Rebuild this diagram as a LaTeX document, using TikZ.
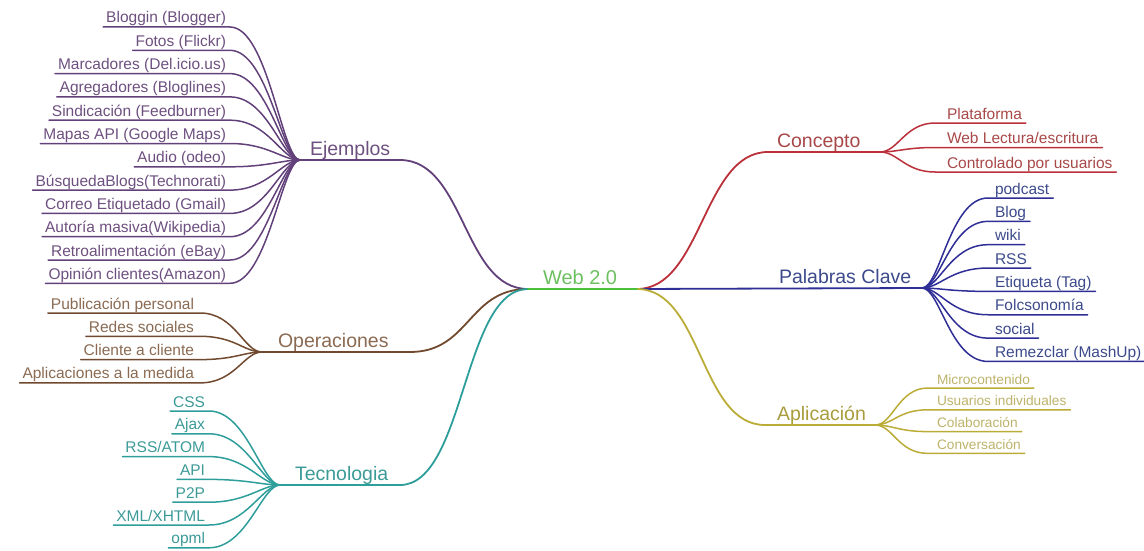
\documentclass[tikz,border=0pt]{standalone}
\usepackage{fontspec}
\setmainfont{Liberation Sans}
\definecolor{cEj}{HTML}{62407A}
\definecolor{tEj}{HTML}{6E5080}
\definecolor{cOp}{HTML}{70492E}
\definecolor{tOp}{HTML}{8A6A52}
\definecolor{cTe}{HTML}{2E9E9B}
\definecolor{tTe}{HTML}{3C9A97}
\definecolor{cCo}{HTML}{BB303A}
\definecolor{tCo}{HTML}{A84848}
\definecolor{cPa}{HTML}{2E2E96}
\definecolor{tPa}{HTML}{3C4A8C}
\definecolor{cAp}{HTML}{BBAC38}
\definecolor{tAp}{HTML}{A89C3C}
\definecolor{tApl}{HTML}{BDB26A}
\definecolor{cWeb}{HTML}{4CC03A}
\definecolor{tWeb}{HTML}{6CC060}
\begin{document}
\begin{tikzpicture}[x=1pt,y=-1pt,line cap=round,
  leaf/.style={inner sep=0pt,outer sep=0pt,font=\fontsize{15.5}{18}\selectfont},
  smallleaf/.style={inner sep=0pt,outer sep=0pt,font=\fontsize{13.7}{16}\selectfont},
  branch/.style={inner sep=0pt,outer sep=0pt,font=\fontsize{19.5}{23}\selectfont},
  ln/.style={line width=1.8pt},
  lf/.style={line width=1.5pt}]
\useasboundingbox (0,0) rectangle (1144,551);

% ---------- centre ----------
\coordinate (WL) at (528,289);
\coordinate (WR) at (637,289);
\node[branch,text=tWeb,anchor=base west,font=\fontsize{20}{24}\selectfont] (web) at (543,284) {Web 2.0};

% ---------- Ejemplos ----------
\coordinate (EjR) at (400,160);
\coordinate (EjF) at (300,160);
\node[branch,text=tEj,anchor=base west] (ej) at (310,155) {Ejemplos};
\draw[ln,cEj] (WL) .. controls +(-65,0) and +(65,0) .. (EjR) -- (EjF);
\foreach \t [count=\i] in {{Bloggin (Blogger)},{Fotos (Flickr)},{Marcadores (Del.icio.us)},{Agregadores (Bloglines)},{Sindicación (Feedburner)},{Mapas API (Google Maps)},{Audio (odeo)},{BúsquedaBlogs(Technorati)},{Correo Etiquetado (Gmail)},{Autoría masiva(Wikipedia)},{Retroalimentación (eBay)},{Opinión clientes(Amazon)}}{
  \pgfmathsetmacro\yy{27+23.3*(\i-1)}
  \coordinate (Er\i) at (230,\yy);
  \node[leaf,text=tEj,anchor=base east] (E\i) at (226,\yy-4) {\t};
  \draw[lf,cEj] ([shift={(-3,4)}]E\i.base west) -- (Er\i) .. controls +(38,0) and +(-18,0) .. (EjF);
}

% ---------- Operaciones ----------
\coordinate (OpR) at (410,352);
\coordinate (OpF) at (262,352);
\node[branch,text=tOp,anchor=base west] (op) at (278,347) {Operaciones};
\draw[ln,cOp] (WL) .. controls +(-60,0) and +(60,0) .. (OpR) -- (OpF);
\foreach \t [count=\i] in {{Publicación personal},{Redes sociales},{Cliente a cliente},{Aplicaciones a la medida}}{
  \pgfmathsetmacro\yy{313+23.3*(\i-1)}
  \coordinate (Or\i) at (200,\yy);
  \node[leaf,text=tOp,anchor=base east] (O\i) at (194,\yy-4) {\t};
  \draw[lf,cOp] ([shift={(-3,4)}]O\i.base west) -- (Or\i) .. controls +(35,0) and +(-18,0) .. (OpF);
}

% ---------- Tecnologia ----------
\coordinate (TeR) at (400,485);
\coordinate (TeF) at (280,485);
\node[branch,text=tTe,anchor=base west] (te) at (295,480) {Tecnologia};
\draw[ln,cTe] (WL) .. controls +(-65,0) and +(65,0) .. (TeR) -- (TeF);
\foreach \t [count=\i] in {{CSS},{Ajax},{RSS/ATOM},{API},{P2P},{XML/XHTML},{opml}}{
  \pgfmathsetmacro\yy{411+22.8*(\i-1)}
  \coordinate (Tr\i) at (209,\yy);
  \node[leaf,text=tTe,anchor=base east] (T\i) at (205,\yy-4) {\t};
  \draw[lf,cTe] ([shift={(-3,4)}]T\i.base west) -- (Tr\i) .. controls +(38,0) and +(-18,0) .. (TeF);
}

% ---------- Concepto ----------
\coordinate (CoL) at (768,152);
\coordinate (CoF) at (880,152);
\node[branch,text=tCo,anchor=base west] (co) at (777,147) {Concepto};
\draw[ln,cCo] (WR) .. controls +(65,0) and +(-65,0) .. (CoL) -- (CoF);
\foreach \t [count=\i] in {{Plataforma},{Web Lectura/escritura},{Controlado por usuarios}}{
  \pgfmathsetmacro\yy{123+24.5*(\i-1)}
  \coordinate (Cl\i) at (935,\yy);
  \node[leaf,text=tCo,anchor=base west] (C\i) at (947,\yy-4) {\t};
  \draw[lf,cCo] (CoF) .. controls +(18,0) and +(-30,0) .. (Cl\i) -- ([shift={(4,4)}]C\i.base east);
}

% ---------- Palabras Clave ----------
\coordinate (PaF) at (922,288);
\node[branch,text=tPa,anchor=base west] (pa) at (779,283) {Palabras Clave};
\draw[ln,cPa] (WR) -- (PaF);
\foreach \t [count=\i] in {{podcast},{Blog},{wiki},{RSS},{Etiqueta (Tag)},{Folcsonomía},{social},{Remezclar (MashUp)}}{
  \pgfmathsetmacro\yy{198+23.35*(\i-1)}
  \coordinate (Pl\i) at (988,\yy);
  \node[leaf,text=tPa,anchor=base west] (P\i) at (995,\yy-4) {\t};
  \draw[lf,cPa] (PaF) .. controls +(18,0) and +(-38,0) .. (Pl\i) -- ([shift={(4,4)}]P\i.base east);
}

% ---------- Aplicación ----------
\coordinate (ApL) at (765,425);
\coordinate (ApF) at (875,425);
\node[branch,text=tAp,anchor=base west] (ap) at (777,420) {Aplicación};
\draw[ln,cAp] (WR) .. controls +(65,0) and +(-65,0) .. (ApL) -- (ApF);
\foreach \t [count=\i] in {{Microcontenido},{Usuarios individuales},{Colaboración},{Conversación}}{
  \pgfmathsetmacro\yy{388+21.8*(\i-1)}
  \coordinate (Al\i) at (928,\yy);
  \node[smallleaf,text=tApl,anchor=base west] (A\i) at (937,\yy-4) {\t};
  \draw[lf,cAp] (ApF) .. controls +(18,0) and +(-30,0) .. (Al\i) -- ([shift={(4,4)}]A\i.base east);
}

% centre line on top
\draw[ln,cWeb] (WL) -- (WR);
\end{tikzpicture}
\end{document}
